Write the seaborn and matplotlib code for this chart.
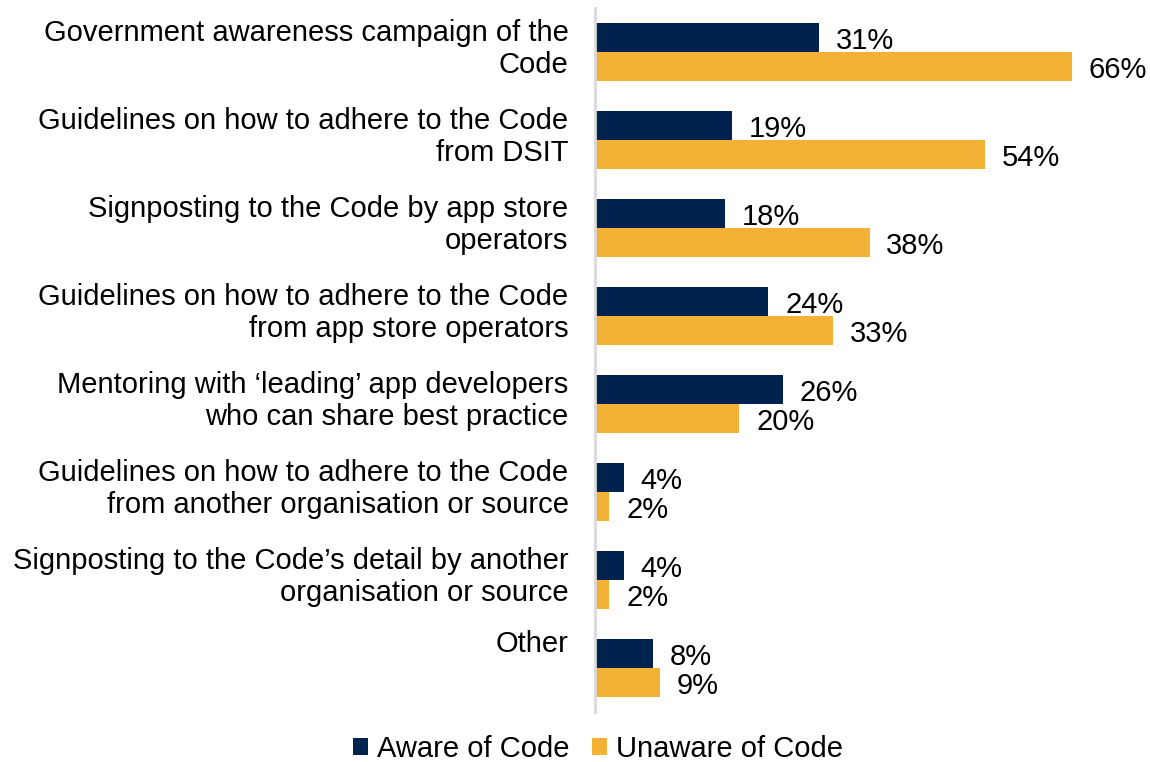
import matplotlib
matplotlib.use("Agg")
import matplotlib.pyplot as plt
import matplotlib.transforms as mtransforms
from matplotlib.patches import Patch
import seaborn as sns
import pandas as pd

categories = [
    "Government awareness campaign of the\nCode",
    "Guidelines on how to adhere to the Code\nfrom DSIT",
    "Signposting to the Code by app store\noperators",
    "Guidelines on how to adhere to the Code\nfrom app store operators",
    "Mentoring with \u2018leading\u2019 app developers\nwho can share best practice",
    "Guidelines on how to adhere to the Code\nfrom another organisation or source",
    "Signposting to the Code\u2019s detail by another\norganisation or source",
    "Other",
]
aware = [31, 19, 18, 24, 26, 4, 4, 8]
unaware = [66, 54, 38, 33, 20, 2, 2, 9]
series_names = ["Aware of Code", "Unaware of Code"]
colors = ["#00224F", "#F3B236"]

df = pd.DataFrame({
    "category": categories * 2,
    "value": aware + unaware,
    "group": [series_names[0]] * len(categories) + [series_names[1]] * len(categories),
})

sns.set_theme(style="white")
plt.rcParams["font.family"] = ["Liberation Sans", "DejaVu Sans"]
plt.rcParams["text.color"] = "black"
plt.rcParams["ytick.color"] = "black"

FS = 21
W, H = 1150, 762
fig = plt.figure(figsize=(W / 100, H / 100), dpi=100)
left_px, right_px, top_px, bottom_px = 595, 1144, 8, 712
ax = fig.add_axes([left_px / W, 1 - bottom_px / H,
                   (right_px - left_px) / W, (bottom_px - top_px) / H])

sns.barplot(data=df, x="value", y="category", hue="group", orient="h",
            palette=colors, width=0.66, ax=ax, legend=False,
            saturation=1, errorbar=None, linewidth=0, edgecolor="none")

# value labels, nudged slightly below the bar centre
for cont in ax.containers:
    texts = ax.bar_label(cont, fmt="{:.0f}%", padding=12, fontsize=FS, color="black")
    for t in texts:
        dx, dy = t.xyann
        t.xyann = (dx, dy - 2.2)

ax.set_xlim(0, 76)
ax.set_ylim(len(categories) - 0.5, -0.5)
ax.set_xlabel("")
ax.set_ylabel("")
ax.set_xticks([])
for s in ["top", "right", "bottom"]:
    ax.spines[s].set_visible(False)
ax.spines["left"].set_color("#D9D9D9")
ax.spines["left"].set_linewidth(2)

ax.tick_params(axis="y", length=0, pad=19, labelsize=FS, labelcolor="black")
for lab in ax.get_yticklabels():
    lab.set_horizontalalignment("right")
    lab.set_multialignment("right")
    lab.set_linespacing(1.2)
    shift = 27 if "\n" not in lab.get_text() else 8
    lab.set_transform(lab.get_transform() +
                      mtransforms.ScaledTranslation(0, shift / 100, fig.dpi_scale_trans))

handles = [Patch(facecolor=c, edgecolor="none") for c in colors]
fig.legend(handles, series_names, loc="center", bbox_to_anchor=(598 / W, 1 - 749 / H),
           ncol=2, frameon=False, fontsize=FS, handlelength=0.5, handleheight=0.5,
           handletextpad=0.3, columnspacing=0.8, labelcolor="black")

fig.savefig("out.png", dpi=100)
